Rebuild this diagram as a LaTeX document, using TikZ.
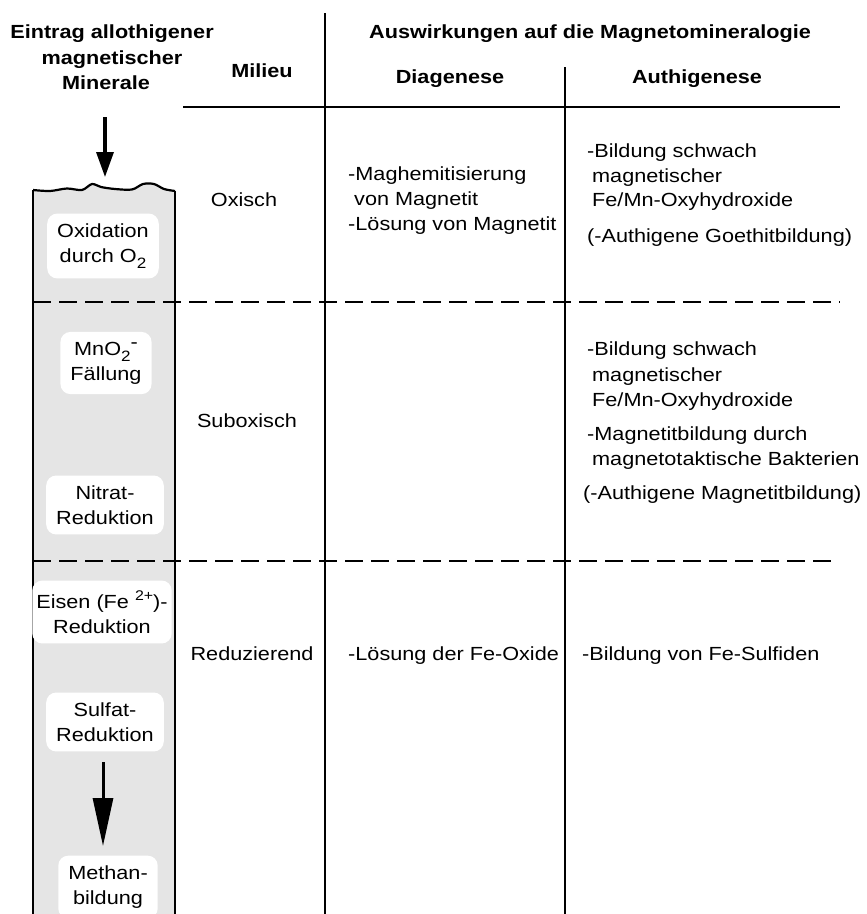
\documentclass[tikz,border=0pt]{standalone}
\usepackage{fontspec}
\setmainfont{Liberation Sans}[FakeStretch=1.14]
\usetikzlibrary{arrows.meta}
\newcommand\tiefz[1]{\raisebox{-0.32em}{\fontsize{15}{15}\selectfont #1}}
\newcommand\hochz[1]{\raisebox{0.42em}{\fontsize{14}{14}\selectfont #1}}
\begin{document}
\begin{tikzpicture}[x=1pt,y=-1pt,
  txt/.style={font=\fontsize{19}{25}\selectfont, inner sep=0pt},
  hd/.style={font=\bfseries\fontsize{19}{25}\selectfont, inner sep=0pt, anchor=base},
  lt/.style={txt, anchor=base west},
  ct/.style={txt, anchor=base},
  lbl/.style={txt, align=center, fill=white, rounded corners=10pt, inner xsep=10pt, inner ysep=10pt},
  rule/.style={line width=1.8pt},
  dashrule/.style={line width=1.8pt, dash pattern=on 18pt off 8pt},
  colfill/.style={fill=black!10},
  bigarrow/.style={line width=3.4pt, -{Triangle[length=25pt,width=17pt]}}
]
\useasboundingbox (0,0) rectangle (867,914);

% ---- sediment column ----
\fill[colfill] plot[smooth] coordinates {(33,190) (50,191) (67,188.5) (82,190) (92,184) (101,187) (115,189) (132,189.5) (143,184) (154,184) (164,189) (175,191)} -- (175,914) -- (33,914) -- cycle;
\draw[line width=2.2pt] plot[smooth] coordinates {(33,190) (50,191) (67,188.5) (82,190) (92,184) (101,187) (115,189) (132,189.5) (143,184) (154,184) (164,189) (175,191)};
\coordinate (cTL) at (33,190);
\coordinate (cBL) at (33,914);
\coordinate (cTR) at (175,191);
\coordinate (cBR) at (175,914);
\draw[rule] (cTL) -- (cBL);
\draw[rule] (cTR) -- (cBR);

% ---- table rules ----
\coordinate (v1t) at (325,13);
\coordinate (v1b) at (325,914);
\coordinate (v2t) at (565,67);
\coordinate (v2b) at (565,914);
\coordinate (h1l) at (183,107);
\coordinate (h1r) at (840,107);
\coordinate (d1l) at (33,302);
\coordinate (d1r) at (840,302);
\coordinate (d2l) at (33,561);
\coordinate (d2r) at (838,561);
\draw[rule] (v1t) -- (v1b);
\draw[rule] (v2t) -- (v2b);
\draw[rule] (h1l) -- (h1r);
\draw[dashrule] (d1l) -- (d1r);
\draw[dashrule] (d2l) -- (d2r);

% ---- headers ----
\node[hd] (hE1) at (112,38) {Eintrag allothigener};
\node[hd] (hE2) at (112,64) {magnetischer};
\node[hd] (hE3) at (106,89) {Minerale};
\node[hd] (hMil) at (262,77) {Milieu};
\node[hd] (hAus) at (590,38) {Auswirkungen auf die Magnetomineralogie};
\node[hd] (hDia) at (450,83) {Diagenese};
\node[hd] (hAut) at (697,83) {Authigenese};

% ---- arrows ----
\coordinate (a1s) at (105,117);
\coordinate (a1e) at (105,177);
\draw[bigarrow] (a1s) -- (a1e);

% ---- column labels ----
\node[lbl] (lOx) at (103,246) {Oxidation\\durch O\tiefz{2}};
\node[lbl] (lMn) at (106,363) {MnO\tiefz{2}\raisebox{0.35em}{-}\\Fällung};
\node[lbl] (lNi) at (105,505) {Nitrat-\\Reduktion};
\node[lbl, inner xsep=4pt] (lFe) at (102,612) {Eisen (Fe \hochz{2+})-\\Reduktion};
\node[lbl] (lSu) at (105,722) {Sulfat-\\Reduktion};
\node[lbl] (lMe) at (108,887) {Methan-\\bildung};

\coordinate (a2s) at (103,762);
\coordinate (a2e) at (103,846);
\draw[line width=3pt, -{Triangle[length=48pt,width=20pt]}] (a2s) -- (a2e);

% ---- Milieu ----
\node[ct] (mOx) at (244,206) {Oxisch};
\node[ct] (mSub) at (247,427) {Suboxisch};
\node[ct] (mRed) at (252,660) {Reduzierend};

% ---- Diagenese ----
\node[lt] (dA1) at (348,180) {-Maghemitisierung};
\node[lt] (dA2) at (354,205) {von Magnetit};
\node[lt] (dA3) at (348,230) {-Lösung von Magnetit};
\node[lt] (dC1) at (348,660) {-Lösung der Fe-Oxide};

% ---- Authigenese ----
\node[lt] (aA1) at (587,157) {-Bildung schwach};
\node[lt] (aA2) at (592,182) {magnetischer};
\node[lt] (aA3) at (592,206) {Fe/Mn-Oxyhydroxide};
\node[lt] (aA4) at (587,242) {(-Authigene Goethitbildung)};

\node[lt] (aB1) at (587,355) {-Bildung schwach};
\node[lt] (aB2) at (592,381) {magnetischer};
\node[lt] (aB3) at (592,406) {Fe/Mn-Oxyhydroxide};
\node[lt] (aB4) at (587,440) {-Magnetitbildung durch};
\node[lt] (aB5) at (592,465) {magnetotaktische Bakterien};
\node[lt] (aB6) at (583,499) {(-Authigene Magnetitbildung)};

\node[lt] (aC1) at (582,660) {-Bildung von Fe-Sulfiden};
\end{tikzpicture}
\end{document}
